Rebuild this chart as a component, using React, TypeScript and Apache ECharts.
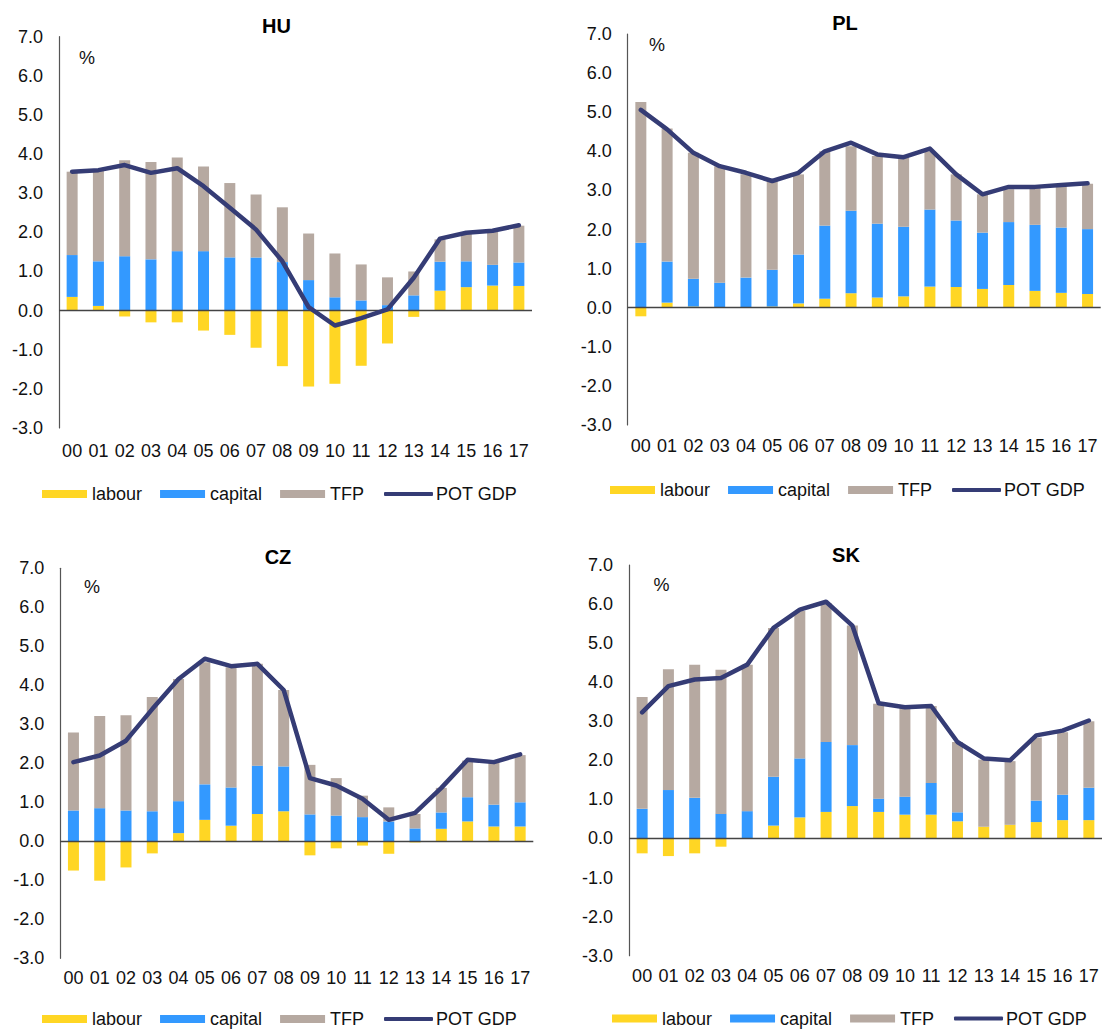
import React, { useEffect, useRef } from 'react';
import * as echarts from 'echarts';

const years = ['00','01','02','03','04','05','06','07','08','09','10','11','12','13','14','15','16','17'];
const yTicks = [-3, -2, -1, 0, 1, 2, 3, 4, 5, 6, 7];
const barNames = ['labour', 'capital', 'TFP'];
const lineName = 'POT GDP';

const huLabour = [0.35, 0.12, -0.15, -0.30, -0.30, -0.51, -0.62, -0.95, -1.42, -1.94, -1.87, -1.41, -0.84, -0.16, 0.51, 0.60, 0.64, 0.63];
const huCapital = [1.07, 1.14, 1.39, 1.31, 1.52, 1.52, 1.36, 1.36, 1.24, 0.78, 0.34, 0.26, 0.14, 0.39, 0.74, 0.66, 0.53, 0.60];
const huTfp = [2.13, 2.31, 2.45, 2.49, 2.39, 2.16, 1.90, 1.61, 1.40, 1.19, 1.12, 0.92, 0.71, 0.61, 0.57, 0.73, 0.87, 0.94];
const huPot = [3.55, 3.59, 3.72, 3.52, 3.64, 3.18, 2.63, 2.07, 1.26, 0.09, -0.38, -0.19, 0.03, 0.84, 1.84, 1.99, 2.04, 2.18];

const plLabour = [-0.22, 0.13, 0.03, 0, 0, 0.03, 0.11, 0.23, 0.37, 0.26, 0.29, 0.54, 0.53, 0.48, 0.58, 0.43, 0.38, 0.35];
const plCapital = [1.66, 1.05, 0.71, 0.64, 0.77, 0.94, 1.25, 1.87, 2.11, 1.89, 1.78, 1.97, 1.70, 1.44, 1.61, 1.69, 1.67, 1.66];
const plTfp = [3.60, 3.40, 3.22, 2.98, 2.64, 2.27, 2.05, 1.90, 1.65, 1.73, 1.77, 1.49, 1.18, 0.98, 0.84, 0.95, 1.06, 1.16];
const plPot = [5.06, 4.56, 3.96, 3.62, 3.45, 3.24, 3.45, 4.00, 4.22, 3.92, 3.85, 4.07, 3.41, 2.90, 3.09, 3.09, 3.14, 3.18];

const czLabour = [-0.75, -1.01, -0.67, -0.31, 0.21, 0.55, 0.40, 0.70, 0.77, -0.36, -0.18, -0.11, -0.32, -0.03, 0.32, 0.51, 0.38, 0.38];
const czCapital = [0.79, 0.85, 0.79, 0.77, 0.82, 0.91, 0.98, 1.24, 1.15, 0.69, 0.66, 0.62, 0.51, 0.33, 0.42, 0.62, 0.56, 0.62];
const czTfp = [2.00, 2.36, 2.44, 2.93, 3.13, 3.13, 3.08, 2.61, 1.96, 1.27, 0.96, 0.55, 0.36, 0.37, 0.63, 0.94, 1.09, 1.21];
const czPot = [2.03, 2.20, 2.58, 3.39, 4.16, 4.68, 4.49, 4.55, 3.88, 1.62, 1.43, 1.09, 0.55, 0.73, 1.37, 2.09, 2.03, 2.23];

const skLabour = [-0.38, -0.45, -0.38, -0.21, 0, 0.33, 0.54, 0.68, 0.83, 0.68, 0.61, 0.61, 0.44, 0.30, 0.35, 0.42, 0.47, 0.47];
const skCapital = [0.76, 1.24, 1.04, 0.63, 0.70, 1.25, 1.51, 1.79, 1.56, 0.34, 0.46, 0.81, 0.23, 0, 0, 0.55, 0.65, 0.83];
const skTfp = [2.86, 3.09, 3.41, 3.69, 3.75, 3.81, 3.77, 3.56, 3.06, 2.43, 2.27, 1.97, 1.80, 1.72, 1.63, 1.61, 1.60, 1.70];
const skPot = [3.23, 3.90, 4.07, 4.11, 4.45, 5.39, 5.86, 6.06, 5.45, 3.46, 3.36, 3.39, 2.47, 2.05, 2.00, 2.64, 2.76, 3.02];

const panels = [
  { title: 'HU', labour: huLabour, capital: huCapital, tfp: huTfp, pot: huPot },
  { title: 'PL', labour: plLabour, capital: plCapital, tfp: plTfp, pot: plPot },
  { title: 'CZ', labour: czLabour, capital: czCapital, tfp: czTfp, pot: czPot },
  { title: 'SK', labour: skLabour, capital: skCapital, tfp: skTfp, pot: skPot },
];

const layouts = [
  { left: 59, top: 36.7, width: 473, height: 391.3, xMargin: 14, titleX: 276.5, titleY: 26, pctX: 87, pctY: 58, legendLeft: 42, lineLegendLeft: 384, legendTop: 485 },
  { left: 627.7, top: 34, width: 473, height: 391, xMargin: 12, titleX: 845, titleY: 23, pctX: 657, pctY: 45, legendLeft: 610, lineLegendLeft: 952, legendTop: 481 },
  { left: 60.3, top: 568.3, width: 473, height: 390, xMargin: 11, titleX: 278, titleY: 557, pctX: 92, pctY: 587, legendLeft: 42, lineLegendLeft: 384, legendTop: 1010 },
  { left: 629, top: 565, width: 473, height: 390.7, xMargin: 11, titleX: 846, titleY: 555, pctX: 661.5, pctY: 585, legendLeft: 612, lineLegendLeft: 954, legendTop: 1009.5 },
];

const FONT = '"Liberation Sans", Arial, Helvetica, sans-serif';
const C_LABOUR = '#FFD624';
const C_CAPITAL = '#3399FF';
const C_TFP = '#B6A9A1';
const C_POT = '#353C75';

function buildOption() {
  const grid = layouts.map((l) => ({
    left: l.left, top: l.top, width: l.width, height: l.height,
    containLabel: false, outerBoundsMode: 'none',
  }));
  const xAxis = layouts.map((l, i) => ({
    type: 'category', gridIndex: i, data: years,
    axisLine: { show: false, onZero: false },
    axisTick: { show: false },
    axisLabel: { interval: 0, margin: l.xMargin, fontSize: 18, color: '#111', fontFamily: FONT },
  }));
  const yAxis = layouts.map((l, i) => ({
    type: 'value', gridIndex: i, min: yTicks[0], max: yTicks[yTicks.length - 1], interval: 1,
    splitLine: { show: false },
    axisLine: { show: true, onZero: false, lineStyle: { color: '#555', width: 1.2 } },
    axisTick: { show: false },
    axisLabel: { margin: 16, fontSize: 18, color: '#111', fontFamily: FONT, formatter: (v: number) => v.toFixed(1) },
  }));
  const series: any[] = [];
  panels.forEach((p, i) => {
    const common = { xAxisIndex: i, yAxisIndex: i, stack: 'stk' + i, barWidth: 11, type: 'bar' };
    series.push({
      ...common, name: barNames[0], data: p.labour, itemStyle: { color: C_LABOUR },
      markLine: {
        silent: true, symbol: ['none', 'none'], label: { show: false },
        lineStyle: { color: '#444', width: 1.4, type: 'solid' },
        data: [{ yAxis: 0 }],
      },
    });
    series.push({ ...common, name: barNames[1], data: p.capital, itemStyle: { color: C_CAPITAL } });
    series.push({ ...common, name: barNames[2], data: p.tfp, itemStyle: { color: C_TFP } });
    series.push({
      type: 'line', name: lineName, xAxisIndex: i, yAxisIndex: i, data: p.pot,
      symbol: 'none', z: 5,
      lineStyle: { width: 4.5, color: C_POT, cap: 'round', join: 'round' },
      itemStyle: { color: C_POT },
    });
  });
  const legend: any[] = [];
  layouts.forEach((l) => {
    legend.push({
      left: l.legendLeft, top: l.legendTop, padding: 0,
      itemWidth: 45, itemHeight: 8, itemGap: 18,
      textStyle: { fontSize: 18, color: '#111', fontFamily: FONT },
      data: barNames.map((n) => ({ name: n, icon: 'rect' })),
    });
    legend.push({
      left: l.lineLegendLeft, top: l.legendTop, padding: 0,
      itemWidth: 49, itemHeight: 4,
      textStyle: { fontSize: 18, color: '#111', fontFamily: FONT, padding: [0, 0, 0, -2] },
      data: [{ name: lineName, icon: 'roundRect' }],
    });
  });
  const graphic: any[] = [];
  panels.forEach((p, i) => {
    const l = layouts[i];
    graphic.push({
      type: 'text', x: l.titleX, y: l.titleY,
      style: { text: p.title, fill: '#000', font: `bold 20px ${FONT}`, align: 'center', verticalAlign: 'middle' },
    });
    graphic.push({
      type: 'text', x: l.pctX, y: l.pctY,
      style: { text: '%', fill: '#111', font: `18px ${FONT}`, align: 'center', verticalAlign: 'middle' },
    });
  });
  return {
    animation: false,
    backgroundColor: '#fff',
    textStyle: { fontFamily: FONT },
    grid, xAxis, yAxis, series, legend, graphic,
  };
}

export default function App() {
  const ref = useRef<HTMLDivElement>(null);
  useEffect(() => {
    const chart = echarts.init(ref.current!, null, { renderer: 'svg' });
    chart.setOption(buildOption() as any);
    return () => chart.dispose();
  }, []);
  return (
    <div
      ref={ref}
      style={{ position: 'fixed', left: 0, top: 0, width: 1102, height: 1030, background: '#fff' }}
    />
  );
}
